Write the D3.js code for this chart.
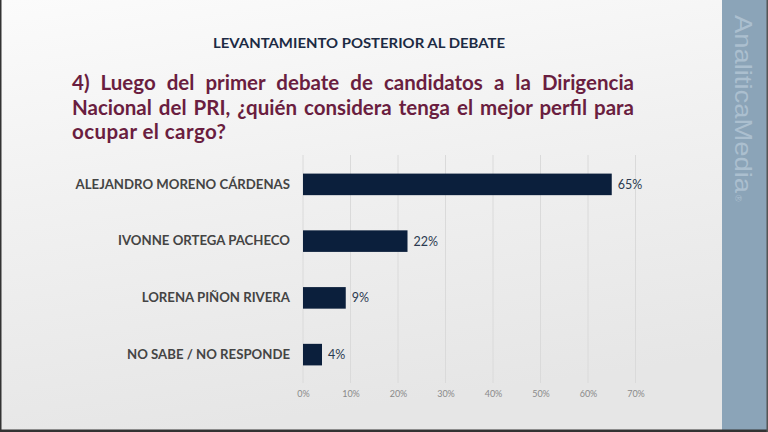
<!DOCTYPE html>
<html><head><meta charset="utf-8">
<script src="https://cdn.jsdelivr.net/npm/d3@7"></script>
<style>html,body{margin:0;padding:0;overflow:hidden;background:#fff}</style>
</head><body>
<svg id="c" width="768" height="432"></svg>
<script>
const categories = ["ALEJANDRO MORENO CÁRDENAS","IVONNE ORTEGA PACHECO","LORENA PIÑON RIVERA","NO SABE / NO RESPONDE"];
const values = [65, 22, 9, 4];
const xTicks = [0,10,20,30,40,50,60,70];
const header = "LEVANTAMIENTO POSTERIOR AL DEBATE";
const questionLines = ["4) Luego del primer debate de candidatos a la Dirigencia","Nacional del PRI, ¿quién considera tenga el mejor perfil para","ocupar el cargo?"];
const brand = "AnaliticaMedia";

const svg = d3.select("#c");
const defs = svg.append("defs");
const g = defs.append("linearGradient").attr("id","bg").attr("x1","0").attr("y1","0").attr("x2","0.25").attr("y2","1");
g.append("stop").attr("offset","0").attr("stop-color","#fbfbfb");
g.append("stop").attr("offset","0.45").attr("stop-color","#f1f1f1");
g.append("stop").attr("offset","1").attr("stop-color","#e6e6e6");
svg.append("rect").attr("width",768).attr("height",432).attr("fill","url(#bg)");

// sidebar
svg.append("rect").attr("x",722).attr("y",0).attr("width",46).attr("height",432).attr("fill","#8ba4b8");
const bt = svg.append("text").attr("transform","translate(735,15) rotate(90)")
  .attr("font-family","Liberation Sans, Arial, sans-serif").attr("font-size",24)
  .attr("fill","#abbfcf");
bt.append("tspan").attr("textLength",178).attr("lengthAdjust","spacingAndGlyphs").text(brand);
bt.append("tspan").attr("font-size",9).attr("dx",2).text("®");

// borders
svg.append("rect").attr("x",0).attr("y",0).attr("width",1.5).attr("height",432).attr("fill","#333");
svg.append("rect").attr("x",0).attr("y",429.5).attr("width",768).attr("height",2.5).attr("fill","#333");
svg.append("rect").attr("x",766.5).attr("y",0).attr("width",1.5).attr("height",432).attr("fill","#555");

// header
svg.append("text").attr("x",359).attr("y",48).attr("text-anchor","middle")
  .attr("font-family","Lato, sans-serif").attr("font-weight","bold").attr("font-size",13.5)
  .attr("fill","#1c2b44").attr("textLength",292).attr("lengthAdjust","spacingAndGlyphs").text(header);

// question (justified lines 1-2 via word spacing)
const qy = [90, 115, 139];
questionLines.forEach((t,i)=>{
  const tx = svg.append("text").attr("x",72).attr("y",qy[i])
    .attr("font-family","Lato, sans-serif").attr("font-weight","bold").attr("font-size",20.5)
    .attr("fill","#6a1e40").text(t);
  const target = i<2 ? 562 : 154;
  const w = tx.node().getComputedTextLength();
  const spaces = (t.match(/ /g)||[]).length;
  if(w > target || i===2){
    tx.attr("textLength",target).attr("lengthAdjust",i===2?"spacing":"spacingAndGlyphs");
  } else if(spaces>0){
    tx.attr("word-spacing",(target-w)/spaces);
  }
});

// chart
const x = d3.scaleLinear().domain([0,70]).range([303,635.5]);
const y = d3.scaleBand().domain(categories).range([156,383]).paddingInner(0.62).paddingOuter(0.31);

// gridlines
svg.append("g").selectAll("line").data(xTicks).join("line")
  .attr("x1",d=>x(d)).attr("x2",d=>x(d)).attr("y1",155).attr("y2",383)
  .attr("stroke","#dadada").attr("stroke-width",1);

// x axis labels
const xa = svg.append("g").attr("transform","translate(0,383)")
  .call(d3.axisBottom(x).tickValues(xTicks).tickSize(0).tickPadding(8).tickFormat(d=>d+"%"));
xa.select(".domain").remove();
xa.selectAll("text").attr("font-family","Lato, sans-serif").attr("font-size",9).attr("fill","#8a8a8a");

// bars
svg.append("g").selectAll("rect").data(values).join("rect")
  .attr("x",x(0)).attr("y",(d,i)=>y(categories[i]))
  .attr("width",d=>x(d)-x(0)).attr("height",y.bandwidth())
  .attr("fill","#0b1f3c");

// value labels
svg.append("g").selectAll("text").data(values).join("text")
  .attr("x",d=>x(d)+6).attr("y",(d,i)=>y(categories[i])+y.bandwidth()/2)
  .attr("dy","0.36em").attr("font-family","Lato, sans-serif").attr("font-size",12.5)
  .attr("fill","#2b3a50").text(d=>d+"%");

// category labels
const ya = svg.append("g").attr("transform","translate(303,0)")
  .call(d3.axisLeft(y).tickSize(0).tickPadding(13));
ya.select(".domain").remove();
ya.selectAll("text").attr("font-family","Lato, sans-serif").attr("font-weight","bold")
  .attr("font-size",13.2).attr("fill","#444");
</script>
</body></html>
